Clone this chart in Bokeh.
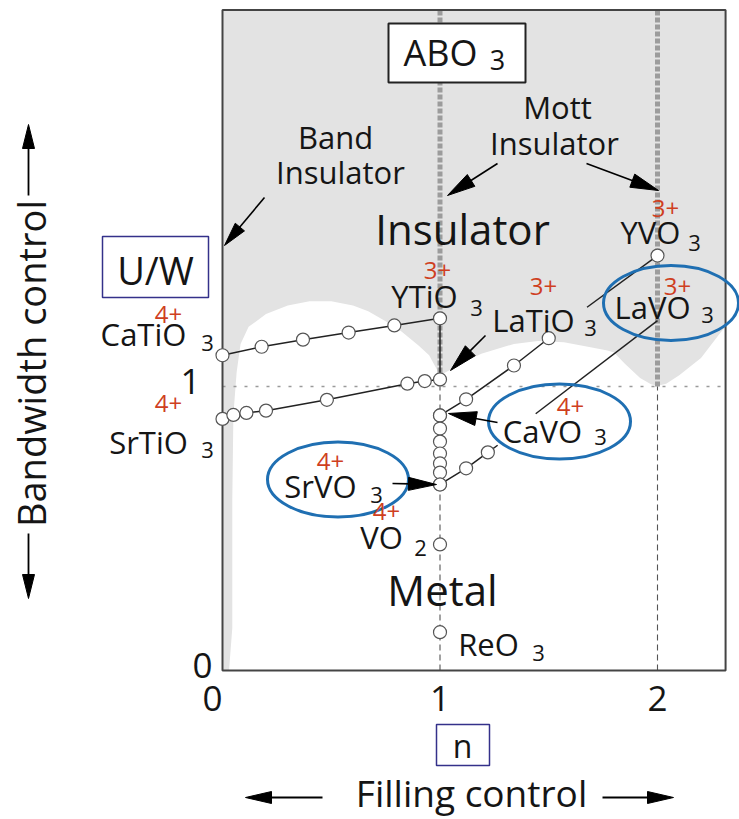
from bokeh.plotting import figure
from bokeh.models import Range1d, Label
from bokeh.embed import file_html
from bokeh.resources import INLINE

W, H = 739, 819
# layout: pixel position of the data origin and pixels per unit
X0, XS = 222.0, 217.5
Y0, YS = 670.0, 284.0


def dx(px):
    return (px - X0) / XS


def dy(py):
    return (Y0 - py) / YS


FONT = "Open Sans"
RED = "#cf3f1f"
BLUE = "#1f6fb2"
NAVY = "#34318a"
CAP = 0.357  # half cap-height of the font, in em

# ---------------- data ----------------
n_max = 2.313          # filling axis extent
uw_max = 2.326         # U/W axis extent
x_ticks = [0, 1, 2]
y_ticks = [0, 1]

# Ca(1-x)Y(x)TiO3
ca_y_ti_n = [0.0, 0.18, 0.37, 0.58, 0.79, 1.0]
ca_y_ti_uw = [1.11, 1.14, 1.165, 1.19, 1.215, 1.24]
# Sr(1-x)La(x)TiO3
sr_la_ti_n = [0.0, 0.05, 0.11, 0.20, 0.48, 0.85, 0.93, 1.0]
sr_la_ti_uw = [0.886, 0.900, 0.907, 0.915, 0.953, 1.010, 1.019, 1.025]
# Y(1-x)La(x)TiO3 (n = 1)
y_la_ti_n = [1.0, 1.0]
y_la_ti_uw = [1.24, 1.025]
# LaTiO3 branch
la_ti_n = [1.0, 1.12, 1.34, 1.50]
la_ti_uw = [0.898, 0.955, 1.074, 1.170]
# Ca(1-x)Sr(x)VO3 (n = 1)
ca_sr_v_n = [1.0, 1.0, 1.0, 1.0, 1.0, 1.0, 1.0]
ca_sr_v_uw = [0.898, 0.852, 0.806, 0.764, 0.729, 0.697, 0.655]
# SrVO3 branch
sr_v_n = [1.0, 1.12, 1.22]
sr_v_uw = [0.655, 0.712, 0.768]
# LaVO3 branch
la_v_n = [1.44, 2.0]
la_v_uw = [0.904, 1.232]
# YVO3 branch
y_v_n = [1.676, 2.0]
y_v_uw = [1.279, 1.461]
# single compounds: VO2, ReO3
single_n = [1.0, 1.0]
single_uw = [0.444, 0.135]

# metal / insulator boundary (white = metal)
metal_n = [0.03, 0.045, 0.045, 0.05, 0.065, 0.083, 0.12, 0.2, 0.3, 0.4,
           0.5, 0.6, 0.67, 0.75, 0.82, 0.9, 0.95, 1.0, 1.05, 1.12,
           1.19, 1.34, 1.45, 1.57, 1.68, 1.77, 1.80, 1.85, 1.92, 1.97,
           2.0, 2.04, 2.1, 2.2, 2.29, 2.313, 2.313]
metal_uw = [0.0, 0.15, 0.6, 0.9, 1.05, 1.15, 1.21, 1.255, 1.285, 1.30,
            1.30, 1.285, 1.265, 1.23, 1.195, 1.145, 1.11, 1.04, 1.06, 1.09,
            1.115, 1.15, 1.16, 1.156, 1.14, 1.127, 1.12, 1.08, 1.03, 1.008,
            1.003, 1.01, 1.04, 1.10, 1.19, 1.21, 0.0]

# ---------------- figure ----------------
p = figure(width=W, height=H,
           x_range=Range1d(dx(0), dx(W)), y_range=Range1d(dy(H), dy(0)),
           x_axis_location=None, y_axis_location=None,
           toolbar_location=None, output_backend="svg", min_border=0)
p.outline_line_color = None
p.grid.visible = False
p.background_fill_color = "white"
p.border_fill_color = "white"

# insulator background and metal region
p.quad(left=[0], right=[n_max], bottom=[0], top=[uw_max],
       fill_color="#e3e3e3", line_color=None)
p.patch(metal_n, metal_uw, fill_color="white", line_color=None)

# reference lines
for n in [1, 2]:
    p.line([n, n], [1.0, uw_max], line_color="#9c9c9c", line_width=5, line_dash="5 2")
    p.line([n, n], [0, 1.0], line_color="#555555", line_width=1.1, line_dash="6 4")
p.line([0, n_max], [1, 1], line_color="#9a9a9a", line_width=1.6, line_dash="3 8")

# frame
p.quad(left=[0], right=[n_max], bottom=[0], top=[uw_max],
       fill_color=None, line_color="#444444", line_width=2)

# series lines
LINE = dict(line_color="#222222", line_width=1.5)
p.line(ca_y_ti_n, ca_y_ti_uw, **LINE)
p.line(sr_la_ti_n, sr_la_ti_uw, **LINE)
p.line(y_la_ti_n, y_la_ti_uw, **LINE)
p.line(la_ti_n, la_ti_uw, **LINE)
# SrVO3 branch, continued a little beyond its last point toward the CaVO3 label
ext = 0.45
p.line(sr_v_n + [sr_v_n[-1] + ext * (sr_v_n[-1] - sr_v_n[-2])],
       sr_v_uw + [sr_v_uw[-1] + ext * (sr_v_uw[-1] - sr_v_uw[-2])], **LINE)
p.line(la_v_n, la_v_uw, **LINE)
p.line(y_v_n, y_v_uw, **LINE)

MK = dict(size=13, fill_color="white", line_color="#555555", line_width=1.2)
p.scatter(ca_y_ti_n, ca_y_ti_uw, **MK)
p.scatter(sr_la_ti_n, sr_la_ti_uw, **MK)
p.scatter(la_ti_n, la_ti_uw, **MK)
p.scatter(ca_sr_v_n, ca_sr_v_uw, **MK)
p.scatter(sr_v_n, sr_v_uw, **MK)
p.scatter(y_v_n[-1:], y_v_uw[-1:], **MK)
p.scatter(single_n, single_uw, **MK)

# ellipses around the vanadates
p.ellipse(x=[dx(670.5), dx(559), dx(337.5)], y=[dy(302.5), dy(421), dy(479)],
          width=[135, 142, 141], height=[75, 75, 75],
          width_units="screen", height_units="screen",
          fill_color=None, line_color=BLUE, line_width=3)

# boxes
p.quad(left=[dx(388)], right=[dx(525)], top=[dy(23)], bottom=[dy(82)],
       fill_color="white", line_color="#222222", line_width=2)
p.quad(left=[dx(102)], right=[dx(208)], top=[dy(236)], bottom=[dy(297)],
       fill_color=None, line_color=NAVY, line_width=1.5)
p.quad(left=[dx(436)], right=[dx(489)], top=[dy(724)], bottom=[dy(765)],
       fill_color=None, line_color=NAVY, line_width=1.5)


def arrow(tail, tip, L, Wd, lw=1.6):
    (x0, y0), (x1, y1) = tail, tip
    vx, vy = x1 - x0, y1 - y0
    d = (vx * vx + vy * vy) ** 0.5
    ux, uy = vx / d, vy / d
    bx, by = x1 - ux * L, y1 - uy * L
    nx, ny = -uy, ux
    p.line([dx(x0), dx(bx + ux * 2)], [dy(y0), dy(by + uy * 2)],
           line_color="black", line_width=lw)
    p.patch([dx(x1), dx(bx + nx * Wd / 2), dx(bx - nx * Wd / 2)],
            [dy(y1), dy(by + ny * Wd / 2), dy(by - ny * Wd / 2)],
            fill_color="black", line_color="black", line_width=1)


arrow((264, 197), (224, 245), 24, 12)
arrow((497, 163), (447, 195), 28, 14)
arrow((586, 163), (658, 190), 28, 14)
arrow((485, 335), (450, 370), 28, 14)
arrow((497, 422), (448, 413), 28, 14)
arrow((392, 483), (436, 484), 28, 13)
arrow((322, 797), (245, 797), 26, 12, lw=1.8)
arrow((602, 797), (673, 797), 26, 12, lw=1.8)
arrow((28, 195), (28, 124), 24, 12, lw=1.8)
arrow((28, 533), (28, 598), 24, 12, lw=1.8)


def lab(text, cx, base, size, color="#151515", align="center", angle=0.0):
    # base = pixel row of the text baseline; anchor at the middle of the caps
    if angle:
        x, y = cx - CAP * size, H - base
    else:
        x, y = cx, H - (base - CAP * size)
    p.add_layout(Label(x=x, y=y, x_units="screen", y_units="screen",
                       text=text, text_font=FONT, text_font_size=f"{size}px",
                       text_color=color, text_align=align,
                       text_baseline="middle", angle=angle))


# titles / region labels
lab("ABO", 440, 65, 36)
lab("3", 497, 69, 27)
lab("Band", 335, 148, 31)
lab("Insulator", 340, 183, 31)
lab("Mott", 557, 118, 31)
lab("Insulator", 554, 154, 31)
lab("Insulator", 462, 243, 42)
lab("Metal", 442, 604, 42)
lab("U/W", 155, 283, 38)
lab("n", 462, 756, 32)
lab("Filling control", 471, 805, 37)
lab("Bandwidth control", 44, 363, 38, angle=1.5707963)

# compounds: (name, cx, baseline, sub, sub_cx, sub_base, charge, ch_cx, ch_base)
compounds = [
    ("CaTiO", 143, 345, "3", 207, 350, "4+", 168, 323),
    ("SrTiO", 148, 453, "3", 207, 457, "4+", 168, 412),
    ("YTiO", 424, 307, "3", 476, 315, "3+", 437, 279),
    ("LaTiO", 533, 331, "3", 590, 335, "3+", 543, 295),
    ("YVO", 650, 243, "3", 694, 250, "3+", 665, 217),
    ("LaVO", 652, 318, "3", 707, 322, "3+", 677, 295),
    ("CaVO", 542, 442, "3", 600, 444, "4+", 570, 415),
    ("SrVO", 320, 497, "3", 376, 502, "4+", 330, 470),
    ("VO", 381, 548, "2", 420, 555, "4+", 386, 520),
    ("ReO", 488, 655, "3", 538, 660, None, 0, 0),
]
for name, cx, b, sub, scx, sb, ch, ccx, cb in compounds:
    lab(name, cx, b, 31)
    lab(sub, scx, sb, 22)
    if ch:
        lab(ch, ccx, cb, 24, color=RED)

# tick labels
for t in x_ticks:
    p.add_layout(Label(x=t, x_units="data", y=H - 698, y_units="screen",
                       x_offset=-10 if t == 0 else 0,
                       text=str(t), text_font=FONT, text_font_size="35px",
                       text_color="#151515", text_align="center",
                       text_baseline="middle"))
y_tick_cx = {0: 202, 1: 190}
for t in y_ticks:
    p.add_layout(Label(x=y_tick_cx[t], x_units="screen", y=t, y_units="data",
                       y_offset=5, text=str(t), text_font=FONT,
                       text_font_size="35px", text_color="#151515",
                       text_align="center", text_baseline="middle"))

open("out.html", "w").write(file_html(p, INLINE))
